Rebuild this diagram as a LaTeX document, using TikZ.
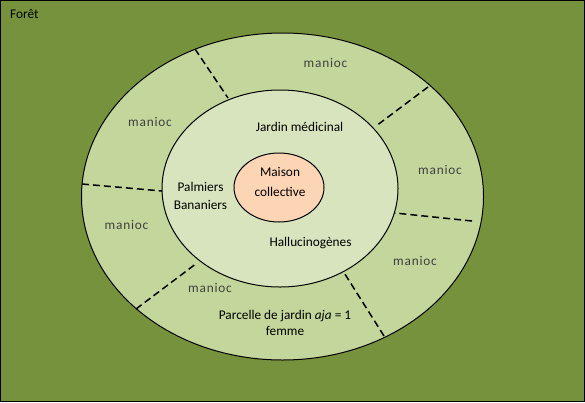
\documentclass[tikz,border=0pt]{standalone}
\usepackage{fontspec}
\setmainfont{Carlito}
\newfontfamily\maniocfont[LetterSpace=6]{Carlito}
\definecolor{foretbg}{RGB}{118,146,60}
\definecolor{ringfill}{RGB}{195,214,155}
\definecolor{jardinfill}{RGB}{215,228,189}
\definecolor{maisonfill}{RGB}{252,213,181}
\definecolor{maniocink}{RGB}{64,64,64}

\begin{document}
\begin{tikzpicture}[x=1pt, y=-1pt,
  font=\fontsize{13.3}{16}\selectfont,
  zonestyle/.style={draw=black, line width=1pt},
  cutline/.style={draw=black, dash pattern=on 7pt off 4pt, line width=1.5pt},
  maniocstyle/.style={anchor=base, inner sep=0pt, text=maniocink,
                      font=\fontsize{13.3}{16}\selectfont\maniocfont},
  labelstyle/.style={align=center, inner sep=0pt, text=black}
]
\useasboundingbox (0,0) rectangle (585,402);
\fill[foretbg] (0,0) rectangle (585,402);
\draw[black, line width=1pt] (0.5,0.5) rectangle (584.5,401.5);
\node[labelstyle, anchor=base west] (foret) at (10,18) {Forêt};

\filldraw[zonestyle, fill=ringfill] (282.5,196.5) ellipse [x radius=201, y radius=163.5];

\coordinate (tlout) at (195,49);   \coordinate (tlin) at (228,98);
\coordinate (trout) at (428,87);   \coordinate (trin) at (376,126);
\coordinate (lout)  at (82,184);   \coordinate (lin)  at (162,191);
\coordinate (rout)  at (472,221);  \coordinate (rin)  at (395,213);
\coordinate (blout) at (136,309);  \coordinate (blin) at (197,263);
\coordinate (brout) at (384,336);  \coordinate (brin) at (343,271);
\draw[cutline] (tlout) -- (tlin);
\draw[cutline] (trout) -- (trin);
\draw[cutline] (lout) -- (lin);
\draw[cutline] (rout) -- (rin);
\draw[cutline] (blout) -- (blin);
\draw[cutline] (brout) -- (brin);

\filldraw[zonestyle, fill=jardinfill] (280,188.5) ellipse [x radius=118, y radius=98.5];
\filldraw[zonestyle, fill=maisonfill] (279,187.5) ellipse [x radius=45, y radius=34.5];

\node[maniocstyle] (maniocn)  at (325.5,67)  {manioc};
\node[maniocstyle] (maniocnw) at (150,126)   {manioc};
\node[maniocstyle] (maniocne) at (440,174)   {manioc};
\node[maniocstyle] (maniocw)  at (126.5,229) {manioc};
\node[maniocstyle] (maniocsw) at (210,292)   {manioc};
\node[maniocstyle] (maniocse) at (415,265)   {manioc};

\node[labelstyle, anchor=base] (medicinal) at (299.5,131) {Jardin médicinal};
\node[labelstyle] (palmiers) at (200.5,196.4) {Palmiers\\[2pt]Bananiers};
\node[labelstyle] (maison) at (280,182.4) {Maison\\[4pt]collective};
\node[labelstyle, anchor=base] (hallu) at (310.5,246) {Hallucinogènes};
\node[labelstyle] (parcelle) at (285,323.4) {Parcelle de jardin \emph{aja} = 1\\femme};
\end{tikzpicture}
\end{document}
